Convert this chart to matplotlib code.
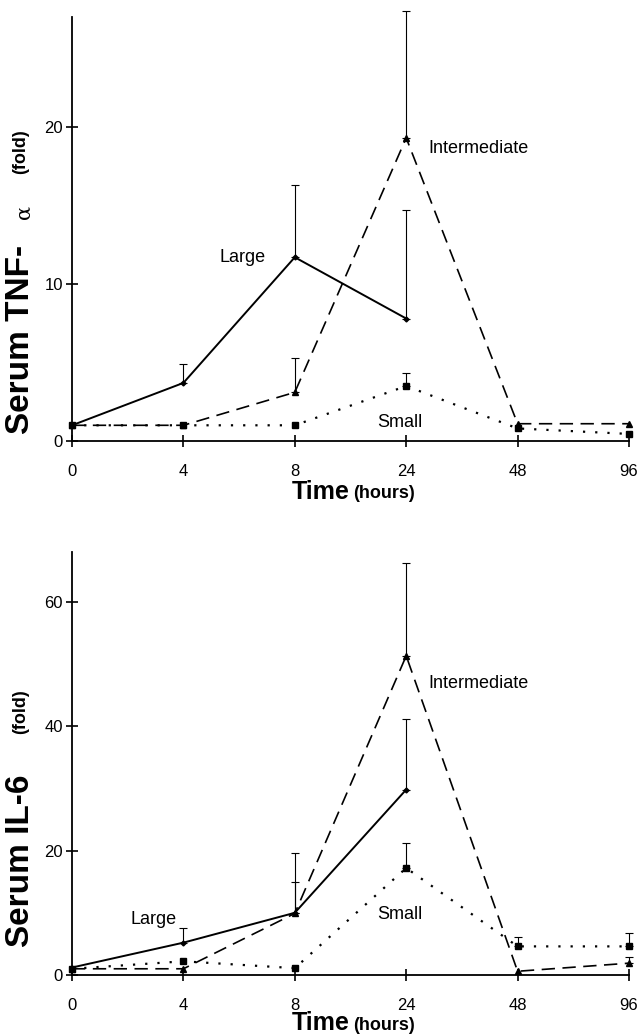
import numpy as np
import matplotlib
matplotlib.use('Agg')
import matplotlib.pyplot as plt

plt.rcParams['font.family'] = ['Liberation Sans Narrow', 'Liberation Sans', 'DejaVu Sans']

times = ['0', '4', '8', '24', '48', '96']

# serum TNF-alpha (fold)
tnf_large = [1.0, 3.7, 11.7, 7.8]
tnf_large_err = [np.nan, 4.9, 16.3, 14.7]
tnf_inter = [1.0, 1.0, 3.1, 19.3, 1.1, 1.1]
tnf_inter_err = [np.nan, np.nan, 5.3, 27.4, np.nan, np.nan]
tnf_small = [1.0, 1.0, 1.0, 3.5, 0.8, 0.45]
tnf_small_err = [np.nan, np.nan, np.nan, 4.3, np.nan, np.nan]

# serum IL-6 (fold)
il6_large = [1.2, 5.2, 10.0, 29.8]
il6_large_err = [np.nan, 7.6, 15.0, 41.2]
il6_inter = [1.0, 1.0, 9.9, 51.3, 0.6, 1.9]
il6_inter_err = [np.nan, np.nan, 19.6, 66.3, np.nan, 2.9]
il6_small = [1.0, 2.2, 1.1, 17.2, 4.6, 4.6]
il6_small_err = [np.nan, np.nan, np.nan, 21.2, 6.1, 6.8]

W, H = 639, 1035
fig = plt.figure(figsize=(W / 100, H / 100), dpi=100)


def px_axes(x0, y_top, x1, y_bot):
    return fig.add_axes([x0 / W, 1 - y_bot / H, (x1 - x0) / W, (y_bot - y_top) / H])


def draw_series(ax, vals, errs, ls, marker, ms, lw):
    x = np.arange(len(vals))
    v = np.array(vals, dtype=float)
    e = np.array(errs, dtype=float)
    ax.plot(x, v, color='black', linestyle=ls, linewidth=lw, marker=marker,
            markersize=ms, clip_on=False, zorder=3)
    m = ~np.isnan(e)
    ax.errorbar(x[m], v[m], yerr=[np.zeros(m.sum()), e[m] - v[m]], fmt='none',
                ecolor='black', elinewidth=0.8, capsize=3, capthick=0.8,
                clip_on=False, zorder=2)


def style_axes(ax, ymax, yticks):
    ax.set_xlim(0, 5)
    ax.set_ylim(0, ymax)
    for s in ['top', 'right']:
        ax.spines[s].set_visible(False)
    ax.spines['left'].set_linewidth(1.3)
    ax.spines['bottom'].set_linewidth(1.3)
    ax.set_xticks(range(6))
    ax.set_xticklabels(times, fontsize=12)
    ax.set_yticks(yticks)
    ax.set_yticklabels([str(t) for t in yticks], fontsize=12)
    ax.tick_params(axis='both', direction='inout', length=9, width=1.2, color='black')
    ax.tick_params(axis='x', pad=12)
    ax.tick_params(axis='y', pad=2)
    ax.patch.set_alpha(0)


dash = (0, (8, 4.5))
dot = (0, (1, 4.5))

# top panel
ax1 = px_axes(72, 17, 629, 441)
draw_series(ax1, tnf_large, tnf_large_err, '-', 'D', 2.5, 1.4)
draw_series(ax1, tnf_inter, tnf_inter_err, dash, '^', 4, 1.2)
draw_series(ax1, tnf_small, tnf_small_err, dot, 's', 4, 1.6)
style_axes(ax1, 27, [0, 10, 20])
ax1.text(1.53, 11.7, 'Large', fontsize=13, ha='center', va='center')
ax1.text(3.65, 18.6, 'Intermediate', fontsize=13, ha='center', va='center')
ax1.text(2.94, 1.15, 'Small', fontsize=13, ha='center', va='center')

# bottom panel
ax2 = px_axes(72, 552, 629, 975)
draw_series(ax2, il6_large, il6_large_err, '-', 'D', 2.5, 1.4)
draw_series(ax2, il6_inter, il6_inter_err, dash, '^', 4, 1.2)
draw_series(ax2, il6_small, il6_small_err, dot, 's', 4, 1.6)
style_axes(ax2, 68, [0, 20, 40, 60])
ax2.text(0.73, 9.0, 'Large', fontsize=13, ha='center', va='center')
ax2.text(3.65, 46.9, 'Intermediate', fontsize=13, ha='center', va='center')
ax2.text(2.94, 9.8, 'Small', fontsize=13, ha='center', va='center')


def ftext(x, y, s, **kw):
    fig.text(x / W, 1 - y / H, s, **kw)


bold_fam = ['Liberation Sans', 'DejaVu Sans']

# y labels
ftext(21, 434, 'Serum TNF-', rotation=90, fontsize=24, fontweight='bold',
      family=bold_fam, ha='center', va='bottom')
ftext(24, 212, 'α', rotation=90, fontsize=15, ha='center', va='center',
      family=['DejaVu Serif'])
ftext(21, 152, '(fold)', rotation=90, fontsize=13, fontweight='bold',
      family=bold_fam, ha='center', va='center')

ftext(21, 947, 'Serum IL-6', rotation=90, fontsize=24, fontweight='bold',
      family=bold_fam, ha='center', va='bottom')
ftext(21, 712, '(fold)', rotation=90, fontsize=13, fontweight='bold',
      family=bold_fam, ha='center', va='center')

# x labels
ftext(350, 492, 'Time', fontsize=18, fontweight='bold', family=bold_fam,
      ha='right', va='center')
ftext(353, 494, '(hours)', fontsize=13, fontweight='bold', family=bold_fam,
      ha='left', va='center')
ftext(350, 1023, 'Time', fontsize=18, fontweight='bold', family=bold_fam,
      ha='right', va='center')
ftext(353, 1025, '(hours)', fontsize=13, fontweight='bold', family=bold_fam,
      ha='left', va='center')

fig.savefig('out.png', dpi=100)
